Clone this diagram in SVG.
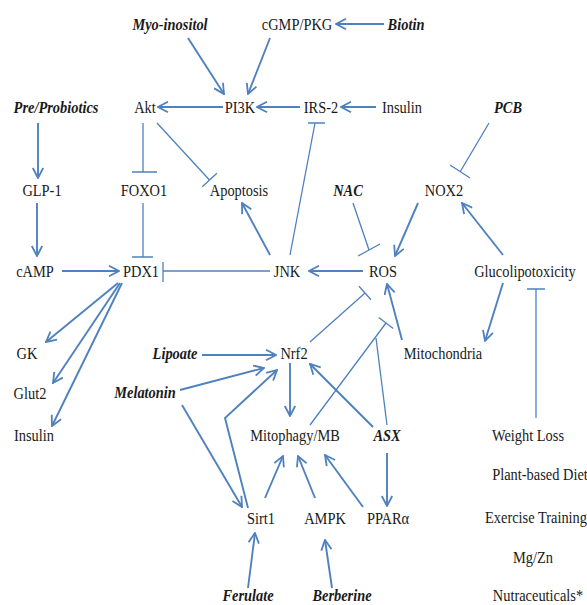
<svg xmlns="http://www.w3.org/2000/svg" width="587" height="605" viewBox="0 0 587 605" font-family="Liberation Serif, DejaVu Serif, serif">
<defs>
<style>
text{font-family:"Liberation Serif","DejaVu Serif",serif;font-size:16px;fill:#1a1a1a;text-anchor:middle}
.bi{font-weight:bold;font-style:italic}
.a{fill:none;stroke:#4f81bd;stroke-width:1.9;marker-end:url(#ah)}
.i{fill:none;stroke:#4f81bd;stroke-width:1.3}
</style>
<marker id="ah" viewBox="0 0 12 12" refX="11" refY="6" markerWidth="12" markerHeight="12" markerUnits="userSpaceOnUse" orient="auto">
<path d="M1,0.8 L11,6 L1,11.2" fill="none" stroke="#4f81bd" stroke-width="1.8"/>
</marker>
</defs>
<rect width="587" height="605" fill="#ffffff"/>
<g id="connectors">
<path class="a" d="M384,24 L336,24"/>
<path class="a" d="M188,38 L224,94"/>
<path class="a" d="M270,38 L248,94"/>
<path class="a" d="M223,107 L158,107"/>
<path class="a" d="M300,107 L257,107"/>
<path class="a" d="M376,107 L341,107"/>
<path class="a" d="M38,123 L38,178"/>
<path class="a" d="M37,203 L37,256"/>
<path class="a" d="M62,271 L119,271"/>
<path class="a" d="M270,255 L242,203"/>
<path class="a" d="M363,271 L309,271"/>
<path class="a" d="M418,203 L395,256"/>
<path class="a" d="M503,255 L462,203"/>
<path class="a" d="M503,283 L485,341"/>
<path class="a" d="M402,340 L387,284"/>
<path class="a" d="M118,283 L46,342"/>
<path class="a" d="M120,283 L53,383"/>
<path class="a" d="M122,283 L52,426"/>
<path class="a" d="M202,355 L276,355"/>
<path class="a" d="M180,390 L264,368"/>
<path class="a" d="M182,405 L242,507"/>
<path class="a" d="M248,508 L225,418 L277,370"/>
<path class="a" d="M290,363 L290,416"/>
<path class="a" d="M373,427 L310,364"/>
<path class="a" d="M265,498 L283,456"/>
<path class="a" d="M315,498 L298,456"/>
<path class="a" d="M363,507 L325,455"/>
<path class="a" d="M387,453 L387,506"/>
<path class="a" d="M248,588 L255,533"/>
<path class="a" d="M332,588 L325,540"/>
<path class="i" d="M143,123 L143,172 M132,172 L157,172"/>
<path class="i" d="M157,123 L209.5,180 M202.2,186.8 L216.9,173.2"/>
<path class="i" d="M143,203 L143,257 M132,257 L153,257"/>
<path class="i" d="M270,271 L163,271 M163,262 L163,282"/>
<path class="i" d="M290,255 L315,123 M308,123 L325,123"/>
<path class="i" d="M489,123 L460,172 M450,165 L470,178"/>
<path class="i" d="M353,203 L369,250 M358,256 L380,244"/>
<path class="i" d="M536,418 L536,289 M527,289 L545,289"/>
<path class="i" d="M310,342 L365,293 M359,286.3 L371,299.7"/>
<path class="i" d="M310,425 L386,323 M378.8,317.6 L393.2,328.4"/>
<path class="i" d="M387,425 L376,338"/>
</g>
<g id="n-myo"><text class="bi" transform="translate(170,30) scale(0.9,1)">Myo-inositol</text></g>
<g id="n-cgmp"><text transform="translate(297,30) scale(0.9,1)">cGMP/PKG</text></g>
<g id="n-biotin"><text class="bi" transform="translate(406,30) scale(0.9,1)">Biotin</text></g>
<g id="n-prepro"><text class="bi" transform="translate(56,113) scale(0.9,1)">Pre/Probiotics</text></g>
<g id="n-akt"><text transform="translate(145,113) scale(0.9,1)">Akt</text></g>
<g id="n-pi3k"><text transform="translate(240,113) scale(0.9,1)">PI3K</text></g>
<g id="n-irs2"><text transform="translate(321,113) scale(0.9,1)">IRS-2</text></g>
<g id="n-insulin1"><text transform="translate(402,113) scale(0.9,1)">Insulin</text></g>
<g id="n-pcb"><text class="bi" transform="translate(508,113) scale(0.9,1)">PCB</text></g>
<g id="n-glp1"><text transform="translate(42,196) scale(0.9,1)">GLP-1</text></g>
<g id="n-foxo1"><text transform="translate(144,196) scale(0.9,1)">FOXO1</text></g>
<g id="n-apoptosis"><text transform="translate(239,196) scale(0.9,1)">Apoptosis</text></g>
<g id="n-nac"><text class="bi" transform="translate(348,196) scale(0.9,1)">NAC</text></g>
<g id="n-nox2"><text transform="translate(444,196) scale(0.9,1)">NOX2</text></g>
<g id="n-camp"><text transform="translate(35,277) scale(0.9,1)">cAMP</text></g>
<g id="n-pdx1"><text transform="translate(141,277) scale(0.9,1)">PDX1</text></g>
<g id="n-jnk"><text transform="translate(287,277) scale(0.9,1)">JNK</text></g>
<g id="n-ros"><text transform="translate(383,277) scale(0.9,1)">ROS</text></g>
<g id="n-gluco"><text transform="translate(525,277) scale(0.9,1)">Glucolipotoxicity</text></g>
<g id="n-gk"><text transform="translate(27,359) scale(0.9,1)">GK</text></g>
<g id="n-lipoate"><text class="bi" transform="translate(175,359) scale(0.9,1)">Lipoate</text></g>
<g id="n-nrf2"><text transform="translate(294,359) scale(0.9,1)">Nrf2</text></g>
<g id="n-mito"><text transform="translate(443,359) scale(0.9,1)">Mitochondria</text></g>
<g id="n-glut2"><text transform="translate(30,399) scale(0.9,1)">Glut2</text></g>
<g id="n-melatonin"><text class="bi" transform="translate(145,398) scale(0.9,1)">Melatonin</text></g>
<g id="n-insulin2"><text transform="translate(34,441) scale(0.9,1)">Insulin</text></g>
<g id="n-mitophagy"><text transform="translate(295,441) scale(0.9,1)">Mitophagy/MB</text></g>
<g id="n-asx"><text class="bi" transform="translate(387,441) scale(0.9,1)">ASX</text></g>
<g id="n-weightloss"><text transform="translate(528,441) scale(0.9,1)">Weight Loss</text></g>
<g id="n-plant"><text transform="translate(540,480) scale(0.9,1)">Plant-based Diet</text></g>
<g id="n-sirt1"><text transform="translate(261,524) scale(0.9,1)">Sirt1</text></g>
<g id="n-ampk"><text transform="translate(325,524) scale(0.9,1)">AMPK</text></g>
<g id="n-ppara"><text transform="translate(388,524) scale(0.9,1)">PPARα</text></g>
<g id="n-exercise"><text transform="translate(536,523) scale(0.9,1)">Exercise Training</text></g>
<g id="n-mgzn"><text transform="translate(533,563) scale(0.9,1)">Mg/Zn</text></g>
<g id="n-ferulate"><text class="bi" transform="translate(248,601) scale(0.9,1)">Ferulate</text></g>
<g id="n-berberine"><text class="bi" transform="translate(342,601) scale(0.9,1)">Berberine</text></g>
<g id="n-nutra"><text transform="translate(538,601) scale(0.9,1)">Nutraceuticals*</text></g>
</svg>
